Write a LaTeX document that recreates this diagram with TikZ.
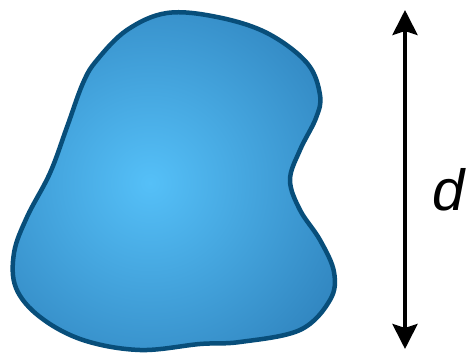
\documentclass[tikz,border=0pt]{standalone}
\usepackage{fontspec}
\setmainfont{Liberation Sans}
\usetikzlibrary{arrows.meta}
\definecolor{blobin}{RGB}{85,192,248}
\definecolor{blobout}{RGB}{22,90,150}
\definecolor{blobline}{RGB}{8,78,122}
\pgfdeclareradialshading{blobshade}{\pgfpoint{0bp}{0bp}}{color(0bp)=(blobin); color(42bp)=(blobout); color(50bp)=(blobout)}
\tikzset{
  dimarrow/.style={line width=4pt, black, {Stealth[length=25pt,width=25pt,inset=4pt]}-{Stealth[length=25pt,width=25pt,inset=4pt]}},
  outline/.style={line width=4.5pt, blobline, line join=round}
}
\begin{document}
\begin{tikzpicture}[x=1pt,y=-1pt]
\useasboundingbox (0,0) rectangle (474,353);
\def\blobpath{plot[smooth cycle, tension=0.6] coordinates {
 (167,13) (217,17) (267,33) (307,63) (320,95) (316,118) (300,150) (290,180)
 (300,210) (320,240) (334,272) (330,300) (300,330) (240,342) (200,344) (140,350)
 (83,340) (40,317) (16,288) (14,253) (27,217) (50,173) (67,127) (83,83) (97,60) (127,30)}}
\begin{scope}
  \clip \blobpath;
  \shade[shading=blobshade] (150,183) circle (227);
\end{scope}
\draw[outline] \blobpath;
\coordinate (top) at (405,10);
\coordinate (bot) at (405,349);
\draw[dimarrow] (top) -- (bot);
\node[font=\fontsize{58}{62}\selectfont\itshape, inner sep=0pt] (d) at (449,190) {d};
\end{tikzpicture}
\end{document}
